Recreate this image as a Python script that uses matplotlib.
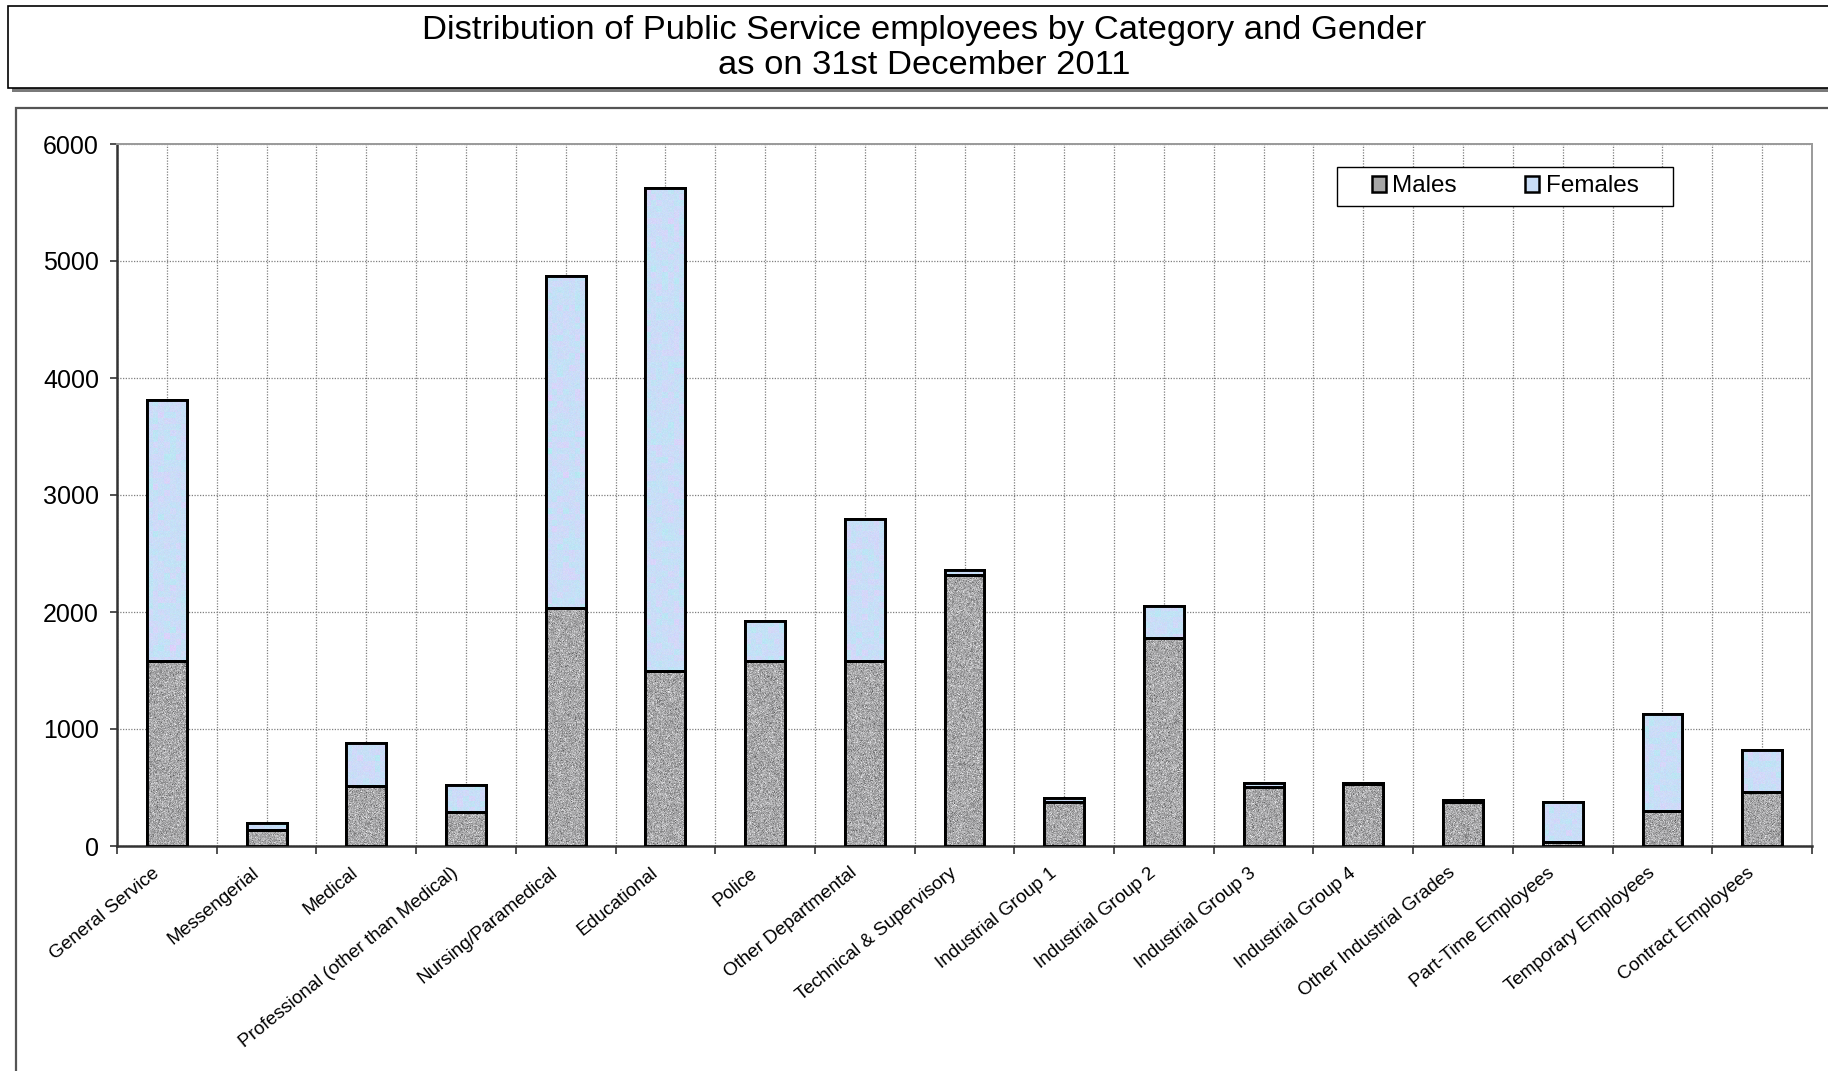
import numpy as np
import matplotlib
matplotlib.use("Agg")
import matplotlib.pyplot as plt
from matplotlib.patches import Rectangle, Patch
from matplotlib.transforms import ScaledTranslation, blended_transform_factory

plt.rcParams['font.family'] = ['Liberation Sans', 'DejaVu Sans']

# Employees by category, split by gender
categories = [
    "General Service", "Messengerial", "Medical",
    "Professional (other than Medical)", "Nursing/Paramedical", "Educational",
    "Police", "Other Departmental", "Technical & Supervisory",
    "Industrial Group 1", "Industrial Group 2", "Industrial Group 3",
    "Industrial Group 4", "Other Industrial Grades", "Part-Time Employees",
    "Temporary Employees", "Contract Employees",
]
males = [1580, 135, 510, 287, 2033, 1495, 1585, 1585, 2312, 380, 1775, 508,
         530, 380, 32, 302, 459]
females = [2230, 65, 367, 231, 2841, 4126, 339, 1206, 48, 30, 279, 28,
           12, 15, 347, 824, 364]
yticks = [0, 1000, 2000, 3000, 4000, 5000, 6000]

title_lines = ["Distribution of Public Service employees by Category and Gender",
               "as on 31st December 2011"]

W, H = 1828, 1071
fig = plt.figure(figsize=(W / 100, H / 100), dpi=100)

# framed title panel with drop shadow
fig.add_artist(Rectangle((12 / W, 1 - 92 / H), 1.0, (92 - 10) / H,
                         transform=fig.transFigure, facecolor='#7a7a7a',
                         edgecolor='none', zorder=0))
fig.add_artist(Rectangle((8 / W, 1 - 88 / H), 1.0, (88 - 6) / H,
                         transform=fig.transFigure, facecolor='white',
                         edgecolor='black', linewidth=1.2, zorder=1))
fig.text(924 / W, 1 - 30 / H, title_lines[0], ha='center', va='center',
         fontsize=24.8, zorder=2)
fig.text(924 / W, 1 - 66 / H, title_lines[1], ha='center', va='center',
         fontsize=24.8, zorder=2)

# framed chart panel
fig.add_artist(Rectangle((16 / W, -0.05), 1.0, 0.05 + 1 - 108 / H,
                         transform=fig.transFigure, facecolor='white',
                         edgecolor='#555555', linewidth=1.6, zorder=1))

ax = fig.add_axes([117 / W, 1 - 846 / H, (1812 - 117) / W, (846 - 144) / H])
ax.set_zorder(3)
ax.patch.set_alpha(0)

x = np.arange(len(categories))
bw = 0.4
male_color = '#a6a6a6'
female_color = '#c9ddf6'
edge_lw = 2.1

bars_m = ax.bar(x, males, width=bw, color=male_color, edgecolor='black',
                linewidth=edge_lw, zorder=3)
bars_f = ax.bar(x, females, width=bw, bottom=males, color=female_color,
                edgecolor='black', linewidth=edge_lw, zorder=3)

# speckled fill textures clipped to each bar
rng = np.random.default_rng(7)


def granite(h, w):
    g = 0.66 + 0.09 * rng.standard_normal((h, w))
    g = np.clip(g, 0.35, 0.95)
    return np.dstack([g, g, g * 1.01])


def pastel(h, w):
    base = np.array([0.79, 0.87, 0.97])
    n1 = rng.standard_normal((h // 6 + 2, w // 6 + 2))
    n1 = np.kron(n1, np.ones((6, 6)))[:h, :w]
    img = np.empty((h, w, 3))
    img[..., 0] = base[0] + 0.025 * n1
    img[..., 1] = base[1] - 0.015 * n1
    img[..., 2] = base[2] + 0.005 * n1
    img += 0.012 * rng.standard_normal((h, w, 3))
    return np.clip(img, 0, 1)


for container, maker in ((bars_m, granite), (bars_f, pastel)):
    for p in container.patches:
        x0, y0 = p.get_x(), p.get_y()
        w_, h_ = p.get_width(), p.get_height()
        if h_ <= 0:
            continue
        npx_h = max(2, int(h_ * 0.117) + 2)
        npx_w = 42
        im = ax.imshow(maker(npx_h, npx_w), extent=(x0, x0 + w_, y0, y0 + h_),
                       aspect='auto', interpolation='nearest', zorder=3.1)
        im.set_clip_path(p)

ax.bar(x, males, width=bw, fill=False, edgecolor='black', linewidth=edge_lw,
       zorder=3.2)
ax.bar(x, females, width=bw, bottom=males, fill=False, edgecolor='black',
       linewidth=edge_lw, zorder=3.2)

ax.set_xlim(-0.5, len(categories) - 0.5)
ax.set_ylim(0, 6000)
ax.set_yticks(yticks)
ax.set_yticklabels([str(v) for v in yticks], fontsize=18)

# category ticks: boundaries carry the tick marks, labels sit at the centres
ax.set_xticks(x)
ax.set_xticklabels([])
ax.set_xticks(np.arange(-0.5, len(categories), 1.0), minor=True)
label_tf = (blended_transform_factory(ax.transData, ax.transAxes)
            + ScaledTranslation(-10 / 100, -25 / 100, fig.dpi_scale_trans))
for xi, name in zip(x, categories):
    ax.text(xi, 0, name, transform=label_tf, rotation=39, ha='right',
            va='center', rotation_mode='anchor', fontsize=13.6, clip_on=False)

ax.tick_params(axis='x', which='major', length=0)
ax.tick_params(axis='x', which='minor', length=5.5, width=1.2, color='#333333',
               direction='out')
ax.tick_params(axis='y', length=5, width=1.2, color='#333333', direction='out',
               pad=8)

grid_kw = dict(color='#7f7f7f', linestyle=(0, (1, 1.2)), linewidth=0.9)
ax.grid(True, axis='y', which='major', **grid_kw)
ax.grid(True, axis='x', which='both', **grid_kw)
ax.set_axisbelow(True)

for side in ('left', 'bottom'):
    ax.spines[side].set_color('#333333')
    ax.spines[side].set_linewidth(1.8)
for side in ('top', 'right'):
    ax.spines[side].set_color('#9a9a9a')
    ax.spines[side].set_linewidth(1.4)

# legend: box drawn separately so its padding can be set freely
lx0, lx1 = (1337 - 117) / 1695, (1673 - 117) / 1695
ly0, ly1 = (846 - 206) / 702, (846 - 167) / 702
ax.add_patch(Rectangle((lx0, ly0), lx1 - lx0, ly1 - ly0, transform=ax.transAxes,
                       facecolor='white', edgecolor='black', linewidth=1.0,
                       zorder=4.5))
handles = [Patch(facecolor=male_color, edgecolor='black', linewidth=1.8,
                 label='Males'),
           Patch(facecolor=female_color, edgecolor='black', linewidth=1.8,
                 label='Females')]
leg = ax.legend(handles=handles, loc='center',
                bbox_to_anchor=((lx0 + lx1) / 2, (ly0 + ly1) / 2),
                ncol=2, fontsize=17.5, frameon=False,
                handlelength=0.6, handleheight=0.6,
                handletextpad=0.25, columnspacing=2.8, borderpad=0.2,
                borderaxespad=0)
leg.set_zorder(5)

fig.savefig("out.png", dpi=100)
